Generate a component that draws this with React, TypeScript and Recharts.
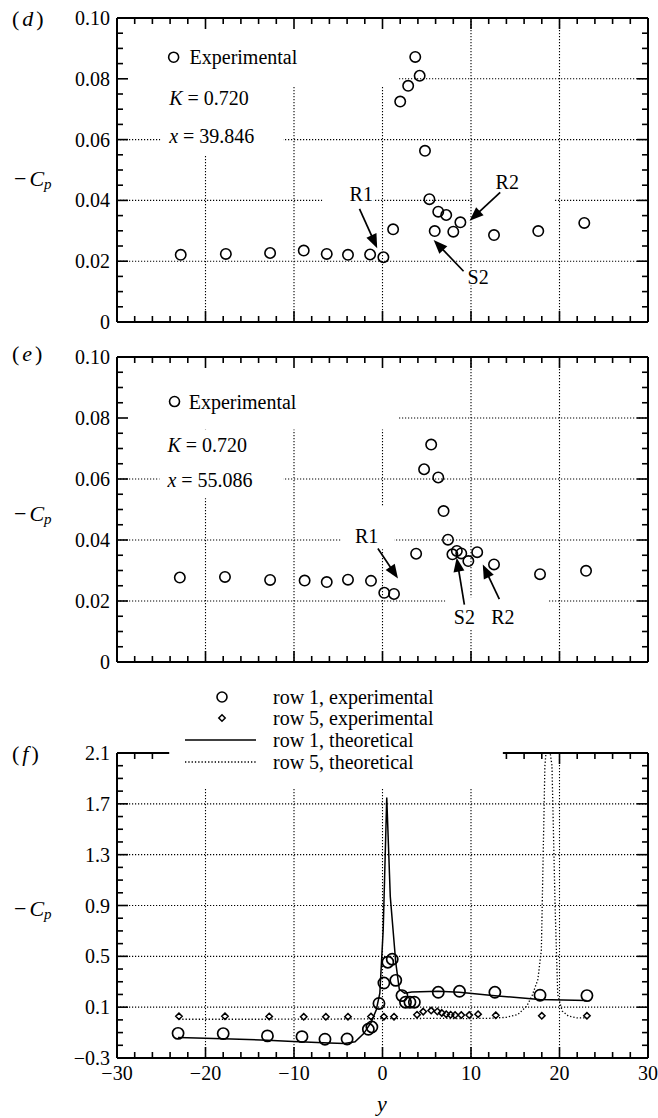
import React from "react";
import {
  ComposedChart,
  Scatter,
  Line,
  XAxis,
  YAxis,
  CartesianGrid,
  ReferenceArea,
  ReferenceLine,
  ReferenceDot,
} from "recharts";

const FONT = '"Liberation Serif", "Times New Roman", Times, serif';

// ---------------- data ----------------
// panel (d): x = 39.846
const dY = [-22.8, -17.7, -12.7, -8.9, -6.3, -3.9, -1.4, 0.1, 1.2, 2.0, 2.9, 3.7, 4.2, 4.8, 5.3, 5.9, 6.3, 7.2, 8.0, 8.8, 12.6, 17.6, 22.8];
const dCp = [0.0221, 0.0224, 0.0227, 0.0235, 0.0224, 0.0221, 0.0222, 0.0213, 0.0305, 0.0725, 0.0777, 0.0872, 0.081, 0.0563, 0.0404, 0.0299, 0.0363, 0.0352, 0.0297, 0.0328, 0.0286, 0.0299, 0.0326];

// panel (e): x = 55.086
const eY = [-22.9, -17.8, -12.7, -8.8, -6.3, -3.9, -1.3, 0.2, 1.3, 3.8, 4.7, 5.5, 6.3, 6.9, 7.4, 7.9, 8.4, 8.9, 9.7, 10.7, 12.6, 17.8, 23.0];
const eCp = [0.0277, 0.0279, 0.0269, 0.0267, 0.0262, 0.027, 0.0266, 0.0227, 0.0223, 0.0355, 0.0632, 0.0713, 0.0605, 0.0495, 0.0401, 0.0353, 0.0364, 0.0356, 0.0331, 0.036, 0.032, 0.0288, 0.0299];

// panel (f)
const fRow1ExpY = [-23.1, -18.0, -13.0, -9.1, -6.5, -4.0, -1.6, -1.2, -0.4, 0.16, 0.6, 1.1, 1.5, 2.2, 2.6, 3.1, 3.6, 6.3, 8.7, 12.7, 17.8, 23.1];
const fRow1ExpCp = [-0.106, -0.108, -0.126, -0.132, -0.152, -0.15, -0.074, -0.056, 0.129, 0.29, 0.454, 0.477, 0.311, 0.191, 0.139, 0.139, 0.139, 0.217, 0.225, 0.217, 0.194, 0.191];

const fRow5ExpY = [-23.0, -17.8, -12.8, -8.9, -6.4, -3.9, -1.3, 0.16, 1.3, 3.9, 4.6, 5.5, 6.2, 6.7, 7.2, 7.7, 8.2, 8.9, 9.8, 10.8, 12.8, 18.0, 23.1];
const fRow5ExpCp = [0.028, 0.028, 0.027, 0.024, 0.024, 0.025, 0.026, 0.025, 0.025, 0.04, 0.065, 0.073, 0.066, 0.055, 0.045, 0.04, 0.038, 0.038, 0.038, 0.045, 0.036, 0.032, 0.032];

const fRow1ThY = [-23.1, -18, -13, -10.1, -6, -4.3, -3.1, -2.1, -1.3, -0.7, -0.3, 0.08, 0.48, 0.88, 1.5, 1.9, 2.5, 3.3, 6.3, 8.7, 12.7, 17.75, 23.05];
const fRow1ThCp = [-0.138, -0.148, -0.16, -0.17, -0.182, -0.185, -0.173, -0.106, -0.022, 0.08, 0.21, 0.71, 1.75, 0.97, 0.45, 0.24, 0.21, 0.22, 0.225, 0.217, 0.19, 0.16, 0.152];

const fRow5ThY = [-23, -18, -13, -8, -4, -1.5, 0, 3, 6, 9, 12, 14, 15.3, 16.3, 16.9, 17.55, 17.95, 18.35, 18.65, 19.15, 19.5, 19.8, 20.3, 21, 22, 23.1];
const fRow5ThCp = [0.005, 0.005, 0.005, 0.006, 0.007, 0.008, 0.01, 0.01, 0.012, 0.01, 0.012, 0.02, 0.043, 0.108, 0.19, 0.316, 0.55, 2.0, 2.25, 2.0, 0.9, 0.2, 0.07, 0.03, 0.015, 0.015];

// ---------------- ticks ----------------
const xTicksAll = [-30, -28, -26, -24, -22, -20, -18, -16, -14, -12, -10, -8, -6, -4, -2, 0, 2, 4, 6, 8, 10, 12, 14, 16, 18, 20, 22, 24, 26, 28, 30];
const xTicksTopF = [-30, -28, -26, 14, 16, 18, 20, 22, 24, 26, 28, 30];
const xMajor = [-30, -20, -10, 0, 10, 20, 30];
const xGrid = [-20, -10, 0, 10, 20];

const cpTicksDE = [0, 0.005, 0.01, 0.015, 0.02, 0.025, 0.03, 0.035, 0.04, 0.045, 0.05, 0.055, 0.06, 0.065, 0.07, 0.075, 0.08, 0.085, 0.09, 0.095, 0.1];
const cpMajorDE = [0, 0.02, 0.04, 0.06, 0.08, 0.1];
const cpGridDE = [0.02, 0.04, 0.06, 0.08];

const cpTicksF = [-0.3, -0.2, -0.1, 0, 0.1, 0.2, 0.3, 0.4, 0.5, 0.6, 0.7, 0.8, 0.9, 1.0, 1.1, 1.2, 1.3, 1.4, 1.5, 1.6, 1.7, 1.8, 1.9, 2.0, 2.1];
const cpMajorF = [-0.3, 0.1, 0.5, 0.9, 1.3, 1.7, 2.1];
const cpGridF = [0.1, 0.5, 0.9, 1.3, 1.7];

const zip = (ys: number[], cps: number[]) => ys.map((y, i) => ({ y, cp: cps[i] }));

const dData = zip(dY, dCp);
const eData = zip(eY, eCp);
const fR1Exp = zip(fRow1ExpY, fRow1ExpCp);
const fR5Exp = zip(fRow5ExpY, fRow5ExpCp);
const fR1Th = zip(fRow1ThY, fRow1ThCp);
const fR5Th = zip(fRow5ThY, fRow5ThCp);

// ---------------- helpers ----------------
const near = (a: number, b: number) => Math.abs(a - b) < 1e-9;
const inList = (v: number, list: number[]) => list.some((m) => near(m, v));
const minus = (s: string) => s.replace("-", "\u2212");
const fmtX = (v: number) => minus(String(v));
const fmtDE = (v: number) => (near(v, 0) ? "0" : v.toFixed(2));
const fmtF = (v: number) => minus(v.toFixed(1));

const FRAME_W = 2;
const TICK_W = 1.6;
const MAJOR_LEN = 11;
const MINOR_LEN = 6;

// axis label renderers (labels only; tick marks are drawn with ReferenceLines)
const makeXLabel = (labels: boolean) => (p: any) => {
  const v = Number(p.payload.value);
  if (!labels || !inList(v, xMajor)) return <g />;
  return (
    <text x={p.x} y={p.y + 15} textAnchor="middle" dominantBaseline="central" fontFamily={FONT} fontSize={20} fill="#000">
      {fmtX(v)}
    </text>
  );
};

const makeYLabel = (majors: number[], fmt: ((v: number) => string) | null) => (p: any) => {
  const v = Number(p.payload.value);
  if (!fmt || !inList(v, majors)) return <g />;
  return (
    <text x={p.x - 7} y={p.y} textAnchor="end" dominantBaseline="central" fontFamily={FONT} fontSize={20} fill="#000">
      {fmt(v)}
    </text>
  );
};

// inward tick marks on bottom (and optionally top) border
const xTickMarks = (topTicks: number[]) =>
  xTicksAll
    .filter((v) => !near(Math.abs(v), 30))
    .map((v) => (
      <ReferenceLine
        key={`xm${v}`}
        x={v}
        ifOverflow="visible"
        shape={(p: any) => {
          const len = inList(v, xMajor) ? MAJOR_LEN : MINOR_LEN;
          const top = Math.min(p.y1, p.y2);
          const bot = Math.max(p.y1, p.y2);
          return (
            <g>
              <line x1={p.x1} x2={p.x1} y1={bot} y2={bot - len} stroke="#000" strokeWidth={TICK_W} />
              {inList(v, topTicks) && <line x1={p.x1} x2={p.x1} y1={top} y2={top + len} stroke="#000" strokeWidth={TICK_W} />}
            </g>
          );
        }}
      />
    ));

const yTickMarks = (ticks: number[], majors: number[], dom: [number, number]) =>
  ticks
    .filter((v) => !near(v, dom[0]) && !near(v, dom[1]))
    .map((v) => (
      <ReferenceLine
        key={`ym${v}`}
        y={v}
        ifOverflow="visible"
        shape={(p: any) => {
          const len = inList(v, majors) ? MAJOR_LEN : MINOR_LEN;
          const l = Math.min(p.x1, p.x2);
          const r = Math.max(p.x1, p.x2);
          return (
            <g>
              <line x1={l} x2={l + len} y1={p.y1} y2={p.y1} stroke="#000" strokeWidth={TICK_W} />
              <line x1={r} x2={r - len} y1={p.y1} y2={p.y1} stroke="#000" strokeWidth={TICK_W} />
            </g>
          );
        }}
      />
    ));

// frame of a panel
const frame = (dom: [number, number], topSegments: [number, number][] | null) => [
  <ReferenceLine key="fl" x={-30} stroke="#000" strokeWidth={FRAME_W} ifOverflow="visible" />,
  <ReferenceLine key="fr" x={30} stroke="#000" strokeWidth={FRAME_W} ifOverflow="visible" />,
  <ReferenceLine key="fb" y={dom[0]} stroke="#000" strokeWidth={FRAME_W} ifOverflow="visible" />,
  ...(topSegments
    ? topSegments.map(([a, b], i) => (
        <ReferenceLine
          key={`ft${i}`}
          segment={[
            { x: a, y: dom[1] },
            { x: b, y: dom[1] },
          ]}
          stroke="#000"
          strokeWidth={FRAME_W}
          ifOverflow="visible"
        />
      ))
    : [<ReferenceLine key="ft" y={dom[1]} stroke="#000" strokeWidth={FRAME_W} ifOverflow="visible" />]),
];

const circleShape = (r: number, w: number) => (p: any) => (
  <circle cx={p.cx} cy={p.cy} r={r} fill="none" stroke="#000" strokeWidth={w} />
);
const diamondShape = (p: any) => {
  const s = 3.2;
  return (
    <polygon
      points={`${p.cx},${p.cy - s} ${p.cx + s},${p.cy} ${p.cx},${p.cy + s} ${p.cx - s},${p.cy}`}
      fill="none"
      stroke="#000"
      strokeWidth={1.5}
    />
  );
};

const arrowShape = (p: any) => {
  const { x1, y1, x2, y2 } = p;
  const dx = x2 - x1;
  const dy = y2 - y1;
  const L = Math.hypot(dx, dy) || 1;
  const ux = dx / L;
  const uy = dy / L;
  const hl = 14;
  const hw = 5.5;
  const bx = x2 - ux * hl;
  const by = y2 - uy * hl;
  return (
    <g>
      <line x1={x1} y1={y1} x2={bx + ux * 2} y2={by + uy * 2} stroke="#000" strokeWidth={1.7} />
      <polygon points={`${x2},${y2} ${bx - uy * hw},${by + ux * hw} ${bx + uy * hw},${by - ux * hw}`} fill="#000" />
    </g>
  );
};

const textAt = (key: string, x: number, y: number, content: React.ReactNode, anchor: string = "start") => (
  <ReferenceDot
    key={key}
    x={x}
    y={y}
    r={0}
    ifOverflow="visible"
    shape={(p: any) => (
      <text x={p.cx} y={p.cy} textAnchor={anchor} dominantBaseline="central" fontFamily={FONT} fontSize={20} fill="#000">
        {content}
      </text>
    )}
  />
);

const symbolAt = (key: string, x: number, y: number) => (
  <ReferenceDot key={key} x={x} y={y} r={0} ifOverflow="visible" shape={circleShape(5, 1.6)} />
);

const arrow = (key: string, x1: number, y1: number, x2: number, y2: number) => (
  <ReferenceLine
    key={key}
    segment={[
      { x: x1, y: y1 },
      { x: x2, y: y2 },
    ]}
    ifOverflow="visible"
    shape={arrowShape}
  />
);

const whiteBox = (key: string, x1: number, x2: number, y1: number, y2: number) => (
  <ReferenceArea key={key} x1={x1} x2={x2} y1={y1} y2={y2} fill="#fff" fillOpacity={1} stroke="none" ifOverflow="visible" />
);

const axes = (opts: { dom: [number, number]; ticks: number[]; majors: number[]; fmt: (v: number) => string; xLabels: boolean }) => [
  <XAxis
    key="xb"
    type="number"
    dataKey="y"
    domain={[-30, 30]}
    ticks={xTicksAll}
    interval={0}
    height={1}
    tickSize={0}
    tickMargin={0}
    axisLine={false}
    tickLine={false}
    tick={makeXLabel(opts.xLabels)}
    allowDataOverflow
  />,
  <YAxis
    key="yl"
    type="number"
    dataKey="cp"
    domain={opts.dom}
    ticks={opts.ticks}
    interval={0}
    width={1}
    tickSize={0}
    tickMargin={0}
    axisLine={false}
    tickLine={false}
    tick={makeYLabel(opts.majors, opts.fmt)}
    allowDataOverflow
  />,
];

const GRID = { stroke: "#000", strokeDasharray: "1.2 1.8", strokeWidth: 1.1 };

function PanelD() {
  const dom: [number, number] = [0, 0.1];
  return (
    <ComposedChart width={658} height={340} margin={{ top: 18, right: 10, bottom: 17, left: 116 }}>
      <CartesianGrid horizontalValues={cpGridDE} verticalValues={xGrid} {...GRID} />
      {whiteBox("a1", -29.7, 1.8, 0.0774, 0.0995)}
      {whiteBox("a2", -25.1, -11.2, 0.0546, 0.0774)}
      {whiteBox("a3", -6.8, -1.0, 0.037, 0.046)}
      {whiteBox("a4", 10.15, 19.5, 0.037, 0.05)}
      {whiteBox("a5", 9.3, 12.3, 0.012, 0.0175)}
      {xTickMarks(xTicksAll)}
      {yTickMarks(cpTicksDE, cpMajorDE, dom)}
      {frame(dom, null)}
      <Scatter data={dData} dataKey="cp" shape={circleShape(5.2, 1.6)} isAnimationActive={false} />
      {arrow("r1", -2.6, 0.0372, -0.6, 0.0243)}
      {arrow("r2", 13.3, 0.0426, 9.84, 0.0333)}
      {arrow("s2", 9.16, 0.0167, 5.78, 0.027)}
      {symbolAt("leg", -23.6, 0.0871)}
      {textAt("t1", -21.8, 0.0871, "Experimental")}
      {textAt("t2", -24.1, 0.0738, <>
        <tspan fontStyle="italic">K</tspan> = 0.720
      </>)}
      {textAt("t3", -24.1, 0.0612, <>
        <tspan fontStyle="italic">x</tspan> = 39.846
      </>)}
      {textAt("t4", -2.4, 0.0421, "R1", "middle")}
      {textAt("t5", 14.1, 0.0459, "R2", "middle")}
      {textAt("t6", 10.8, 0.0148, "S2", "middle")}
      {axes({ dom, ticks: cpTicksDE, majors: cpMajorDE, fmt: fmtDE, xLabels: false })}
    </ComposedChart>
  );
}

function PanelE() {
  const dom: [number, number] = [0, 0.1];
  return (
    <ComposedChart width={658} height={340} margin={{ top: 17, right: 10, bottom: 17, left: 116 }}>
      <CartesianGrid horizontalValues={cpGridDE} verticalValues={xGrid} {...GRID} />
      {whiteBox("b1", -29.7, 1.75, 0.0762, 0.0995)}
      {whiteBox("b2", -25.2, -11.2, 0.0537, 0.0762)}
      {whiteBox("b3", -4.7, 1.3, 0.037, 0.051)}
      {whiteBox("b4", 7.1, 18.7, 0.0105, 0.0212)}
      {xTickMarks(xTicksAll)}
      {yTickMarks(cpTicksDE, cpMajorDE, dom)}
      {frame(dom, null)}
      <Scatter data={eData} dataKey="cp" shape={circleShape(5.2, 1.6)} isAnimationActive={false} />
      {arrow("r1", -0.52, 0.0372, 1.75, 0.0274)}
      {arrow("s2", 9.25, 0.0188, 8.38, 0.0342)}
      {arrow("r2", 13.2, 0.0206, 11.33, 0.032)}
      {symbolAt("leg", -23.5, 0.0854)}
      {textAt("t1", -21.9, 0.0854, "Experimental")}
      {textAt("t2", -24.3, 0.0712, <>
        <tspan fontStyle="italic">K</tspan> = 0.720
      </>)}
      {textAt("t3", -24.3, 0.0596, <>
        <tspan fontStyle="italic">x</tspan> = 55.086
      </>)}
      {textAt("t4", -1.8, 0.0412, "R1", "middle")}
      {textAt("t5", 9.25, 0.0147, "S2", "middle")}
      {textAt("t6", 13.6, 0.0147, "R2", "middle")}
      {axes({ dom, ticks: cpTicksDE, majors: cpMajorDE, fmt: fmtDE, xLabels: false })}
    </ComposedChart>
  );
}

function PanelF() {
  const dom: [number, number] = [-0.3, 2.1];
  return (
    <ComposedChart width={658} height={438} margin={{ top: 73, right: 10, bottom: 59, left: 116 }}>
      <CartesianGrid horizontalValues={cpGridF} verticalValues={xGrid} {...GRID} />
      {whiteBox("c1", -24.1, 13.6, 1.82, 2.1)}
      {xTickMarks(xTicksTopF)}
      {yTickMarks(cpTicksF, cpMajorF, dom)}
      {frame(dom, [
        [-30, -24.1],
        [13.6, 30],
      ])}
      <Line data={fR1Th} dataKey="cp" type="linear" stroke="#000" strokeWidth={1.5} dot={false} isAnimationActive={false} />
      <Line data={fR5Th} dataKey="cp" type="linear" stroke="#000" strokeWidth={1.3} strokeDasharray="1.3 2" dot={false} isAnimationActive={false} />
      <Scatter data={fR1Exp} dataKey="cp" shape={circleShape(5.6, 1.7)} isAnimationActive={false} />
      <Scatter data={fR5Exp} dataKey="cp" shape={diamondShape} isAnimationActive={false} />
      {axes({ dom, ticks: cpTicksF, majors: cpMajorF, fmt: fmtF, xLabels: true })}
    </ComposedChart>
  );
}

const CpLabel = ({ y }: { y: number }) => (
  <text x={14} y={y} dominantBaseline="central" fontFamily={FONT} fontSize={22} fill="#000">
    {"\u2212"}
    <tspan dx={3} fontStyle="italic">C</tspan>
    <tspan fontStyle="italic" fontSize={15} dy={6}>p</tspan>
  </text>
);

const PanelTag = ({ y, letter }: { y: number; letter: string }) => (
  <text x={12} y={y} dominantBaseline="central" fontFamily={FONT} fontSize={22} fill="#000">
    (<tspan dx={3} fontStyle="italic">{letter}</tspan>
    <tspan dx={3}>)</tspan>
  </text>
);

export default function App() {
  const legendRows = [697, 718, 740, 762];
  return (
    <div style={{ position: "absolute", left: 0, top: 0, width: 658, height: 1118, background: "#fff" }}>
      <div style={{ position: "absolute", left: 0, top: 0 }}>
        <PanelD />
      </div>
      <div style={{ position: "absolute", left: 0, top: 340 }}>
        <PanelE />
      </div>
      <div style={{ position: "absolute", left: 0, top: 680 }}>
        <PanelF />
      </div>
      <svg width={658} height={1118} style={{ position: "absolute", left: 0, top: 0, pointerEvents: "none" }}>
        <PanelTag y={18} letter="d" />
        <PanelTag y={353} letter="e" />
        <PanelTag y={753} letter="f" />
        <CpLabel y={178} />
        <CpLabel y={513} />
        <CpLabel y={908} />
        <text x={382} y={1103} textAnchor="middle" dominantBaseline="central" fontFamily={FONT} fontSize={22} fontStyle="italic" fill="#000">
          y
        </text>
        {/* legend of panel (f) */}
        <circle cx={222} cy={legendRows[0]} r={5} fill="none" stroke="#000" strokeWidth={1.6} />
        <polygon
          points={`222,${legendRows[1] - 3.2} 225.2,${legendRows[1]} 222,${legendRows[1] + 3.2} 218.8,${legendRows[1]}`}
          fill="none"
          stroke="#000"
          strokeWidth={1.5}
        />
        <line x1={185} x2={256} y1={legendRows[2]} y2={legendRows[2]} stroke="#000" strokeWidth={1.5} />
        <line x1={185} x2={256} y1={legendRows[3]} y2={legendRows[3]} stroke="#000" strokeWidth={1.3} strokeDasharray="1.3 2" />
        {["row 1, experimental", "row 5, experimental", "row 1, theoretical", "row 5, theoretical"].map((t, i) => (
          <text key={t} x={273} y={legendRows[i]} dominantBaseline="central" fontFamily={FONT} fontSize={20} fill="#000">
            {t}
          </text>
        ))}
      </svg>
    </div>
  );
}
